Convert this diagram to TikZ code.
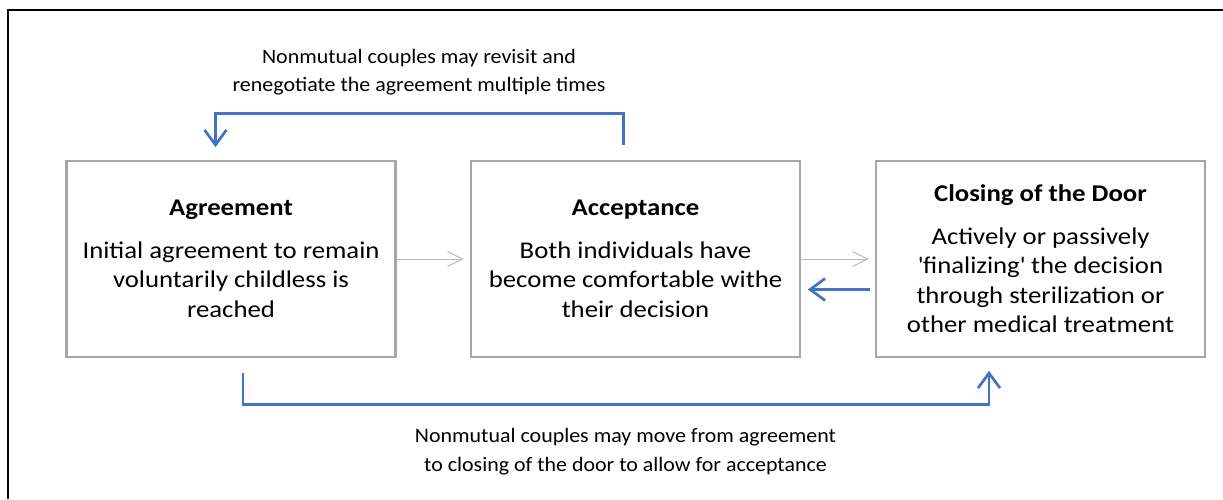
\documentclass[tikz,border=0pt]{standalone}
\usepackage{fontspec}
\setmainfont{Carlito}[FakeStretch=1.115]
\newfontfamily\lblfont{Carlito}[FakeStretch=1.07]
\usetikzlibrary{arrows.meta,calc}
\definecolor{boxgray}{RGB}{166,166,166}
\definecolor{arrgray}{RGB}{185,185,185}
\definecolor{wordblue}{RGB}{68,114,196}
\begin{document}
\begin{tikzpicture}[x=1pt,y=-1pt,
  stagebox/.style={draw=boxgray,line width=2.6pt,minimum width=329pt,minimum height=196pt,
    inner sep=0pt,align=center,font=\fontsize{24}{29.5}\selectfont},
  grayarrow/.style={draw=arrgray,line width=1pt,-{Straight Barb[length=15pt,width=15pt,line width=1pt]}},
  bluearrow/.style={draw=wordblue,line width=2.7pt,-{Straight Barb[length=15pt,width=22pt,line width=2.7pt]}},
  lbl/.style={align=center,inner sep=0pt,font=\lblfont\fontsize{20.5}{28.4}\selectfont}]
\useasboundingbox (0,0) rectangle (1223,499);
\draw[line width=2.7pt] (8,499) -- (8,10) -- (1223,10);

\node[stagebox] (agr) at (231,259) {\textbf{Agreement}\\[13pt]Initial agreement to remain\\voluntarily childless is\\reached};
\node[stagebox] (acc) at (635.5,259) {\textbf{Acceptance}\\[13pt]Both individuals have\\become comfortable withe\\their decision};
\node[stagebox] (door) at (1040.5,259) {\textbf{Closing of the Door}\\[13pt]Actively or passively\\\textquotesingle finalizing\textquotesingle{} the decision\\through sterilization or\\other medical treatment};

\draw[grayarrow] (agr.east) -- ($(acc.west)+(-6,0)$);
\draw[grayarrow] (acc.east) -- ($(door.west)+(-6,0)$);
\draw[bluearrow] ($(door.west)+(-5,30.5)$) -- ($(acc.east)+(6.5,30.5)$);

\draw[bluearrow] ($(acc.north)+(-12,-15)$) -- ++(0,-31) -| ($(agr.north)+(-15.5,-12.5)$);
\draw[bluearrow] ($(agr.south)+(12,15)$) -- ++(0,31.5) -| ($(door.south)+(-51.5,12.5)$);

\node[lbl] (toplbl) at (419,72) {Nonmutual couples may revisit and\\renegotiate the agreement multiple times};
\node[lbl] (botlbl) at (625.5,451.5) {Nonmutual couples may move from agreement\\to closing of the door to allow for acceptance};
\end{tikzpicture}
\end{document}
